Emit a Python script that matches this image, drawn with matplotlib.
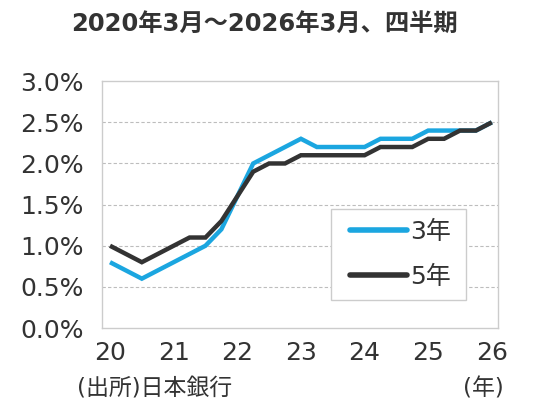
import matplotlib
matplotlib.use("Agg")
import matplotlib.pyplot as plt
from matplotlib.patches import Rectangle
import numpy as np

plt.rcParams['font.family'] = ['DejaVu Sans', 'Noto Sans CJK JP']

title = "2020年3月～2026年3月、四半期"
quarters = [2020 + i / 4 for i in range(25)]
y3 = [0.8, 0.7, 0.6, 0.7, 0.8, 0.9, 1.0, 1.2, 1.6, 2.0, 2.1, 2.2, 2.3,
      2.2, 2.2, 2.2, 2.2, 2.3, 2.3, 2.3, 2.4, 2.4, 2.4, 2.4, 2.5]
y5 = [1.0, 0.9, 0.8, 0.9, 1.0, 1.1, 1.1, 1.3, 1.6, 1.9, 2.0, 2.0, 2.1,
      2.1, 2.1, 2.1, 2.1, 2.2, 2.2, 2.2, 2.3, 2.3, 2.4, 2.4, 2.5]
xticks = [2020, 2021, 2022, 2023, 2024, 2025, 2026]
xticklabels = ["20", "21", "22", "23", "24", "25", "26"]
yticks = [0.0, 0.5, 1.0, 1.5, 2.0, 2.5, 3.0]
yticklabels = ["0.0%", "0.5%", "1.0%", "1.5%", "2.0%", "2.5%", "3.0%"]
series_names = ["3年", "5年"]
source = "(出所)日本銀行"
unit = "(年)"

fig = plt.figure(figsize=(5.4, 4.08), dpi=100)
ax = fig.add_axes([0.189, 0.196, 0.733, 0.605])

text_color = "#333333"
ax.plot(quarters, y3, color="#1ba6e0", lw=3.2, solid_joinstyle="miter", solid_capstyle="butt",
        label=series_names[0], zorder=3)
ax.plot(quarters, y5, color="#333333", lw=3.2, solid_joinstyle="miter", solid_capstyle="butt",
        label=series_names[1], zorder=4)

ax.set_xlim(2019.875, 2026.095)
ax.set_ylim(0, 3.0)
ax.set_xticks(xticks)
ax.set_xticklabels(xticklabels)
ax.set_yticks(yticks)
ax.set_yticklabels(yticklabels)
ax.tick_params(axis='both', length=0, labelsize=18, colors=text_color)
ax.tick_params(axis='x', pad=9)
ax.tick_params(axis='y', pad=13)

for v in yticks[1:-1]:
    ax.axhline(v, color="#bdbdbd", lw=0.8, ls=(0, (3, 2)), zorder=1)
for s in ax.spines.values():
    s.set_color("#cccccc")
    s.set_linewidth(1.0)

box = Rectangle((0.578, 0.113), 0.341, 0.369, transform=ax.transAxes,
                facecolor="white", edgecolor="#cccccc", lw=1.0, zorder=5)
ax.add_patch(box)

leg = ax.legend(loc="center", bbox_to_anchor=(0.578 + 0.341 / 2 + 0.005, 0.113 + 0.369 / 2),
                fontsize=18, handlelength=2.3, handletextpad=0.12, labelspacing=0.85,
                borderpad=0.0, borderaxespad=0, frameon=False)
leg.set_zorder(6)
for t in leg.get_texts():
    t.set_color(text_color)
for h in leg.get_lines():
    h.set_solid_capstyle("round")
    h.set_linewidth(4.0)

fig.text(0.49, 0.941, title, ha="center", va="center", fontsize=17.5, fontweight="bold", color=text_color)
fig.text(0.142, 0.047, source, ha="left", va="center", fontsize=16.5, color=text_color)
fig.text(0.933, 0.047, unit, ha="right", va="center", fontsize=16.5, color=text_color)

fig.savefig("out.png", dpi=100)
